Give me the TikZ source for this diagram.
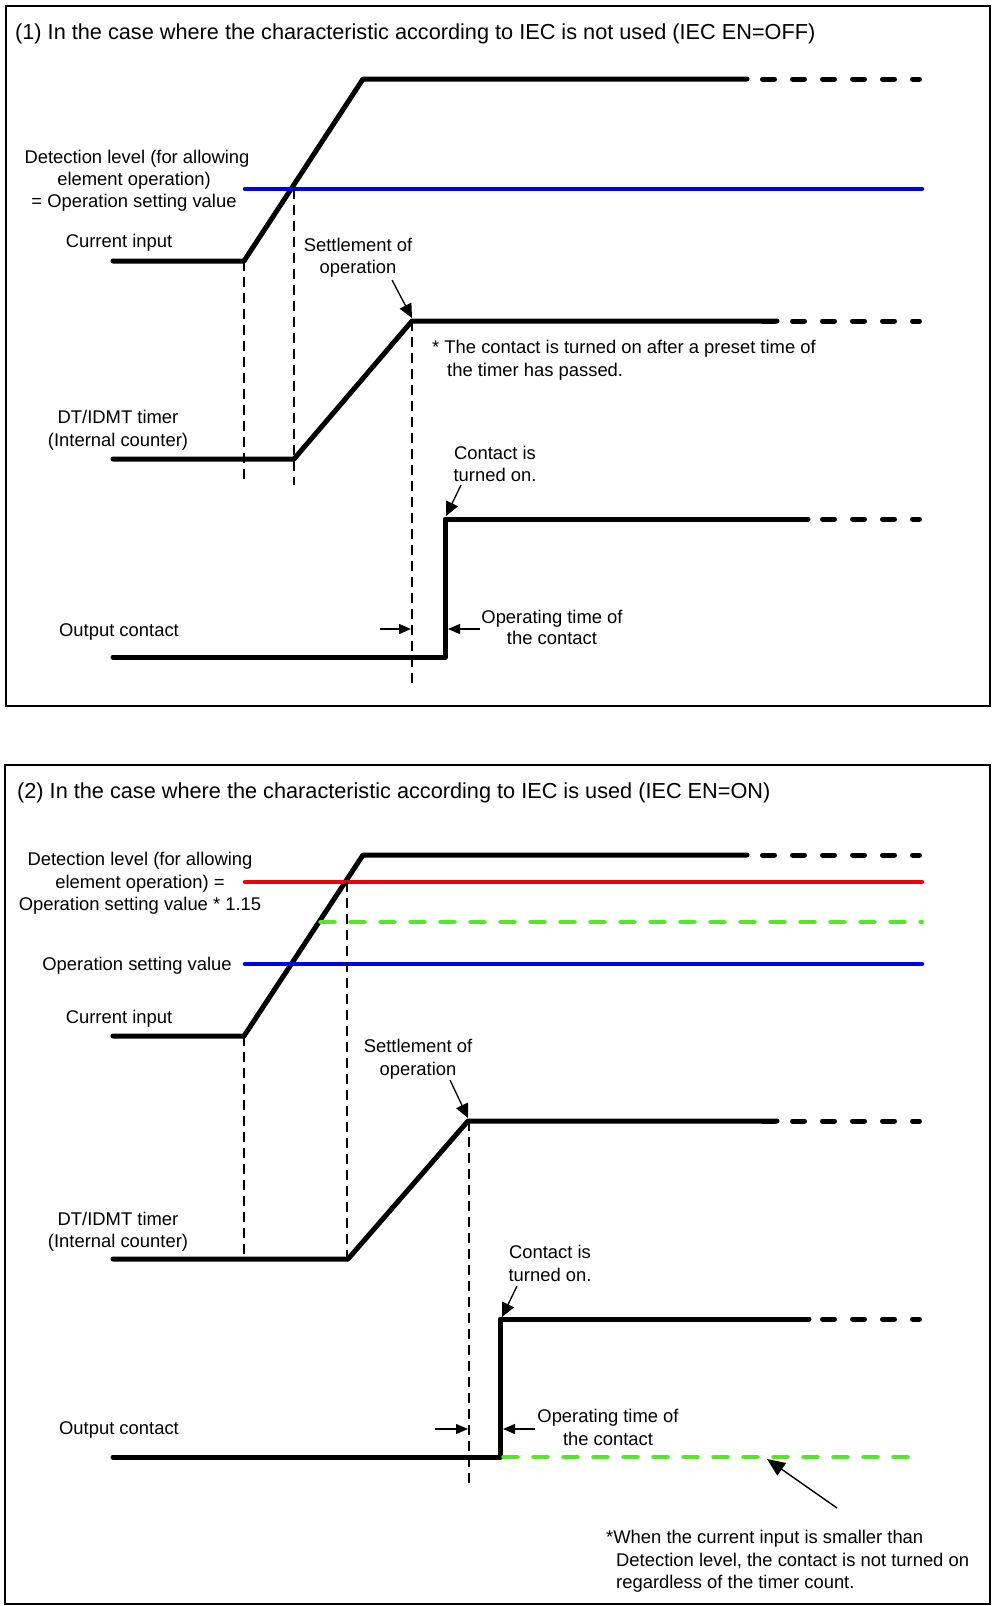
\documentclass[tikz,border=0pt]{standalone}
\usepackage{fontspec}
\setmainfont{Liberation Sans}
\usetikzlibrary{arrows.meta}
\definecolor{sigblue}{RGB}{0,0,230}
\definecolor{sigred}{RGB}{240,0,0}
\definecolor{siggreen}{RGB}{85,230,40}
\begin{document}
\begin{tikzpicture}[x=1pt,y=-1pt,
  sig/.style={line width=5pt,line cap=round,line join=round},
  sigtail/.style={line width=5pt,line cap=round,dash pattern=on 12pt off 18pt},
  lvlblue/.style={line width=4.5pt,line cap=round,draw=sigblue},
  lvlred/.style={line width=4.5pt,line cap=round,draw=sigred},
  lvlgreen/.style={line width=4.5pt,line cap=round,draw=siggreen,dash pattern=on 14pt off 16pt},
  guide/.style={line width=1.1pt,dash pattern=on 10pt off 6pt},
  lbl/.style={font=\fontsize{18.4}{22.5}\selectfont,inner sep=0pt,anchor=base},
  lblw/.style={font=\fontsize{18.4}{22.5}\selectfont,inner sep=0pt,anchor=base west},
  ttl/.style={font=\fontsize{21.7}{26}\selectfont,inner sep=0pt,anchor=base west},
  callout/.style={-{Triangle[length=14pt,width=13pt]},line width=1.3pt},
  bigcallout/.style={-{Triangle[length=18pt,width=15pt]},line width=1.4pt},
  dimarrow/.style={-{Triangle[length=12pt,width=10pt]},line width=1.3pt},
  frm/.style={line width=1.5pt}]
\useasboundingbox (0,0) rectangle (992,1606);

% ================= Panel 1 =================
\draw[frm] (6,6) rectangle (990,706);
\node[ttl] (title1) at (15,39) {(1) In the case where the characteristic according to IEC is not used (IEC EN=OFF)};

% current input
\coordinate (c1a) at (113,261); \coordinate (c1b) at (244,261);
\coordinate (c1c) at (363,79);  \coordinate (c1d) at (747,79);
\coordinate (c1s) at (762.5,79); \coordinate (c1e) at (919.5,79);
\draw[sig] (c1a) -- (c1b) -- (c1c) -- (c1d);
\draw[sigtail] (c1s) -- (c1e);
% detection level
\coordinate (b1a) at (245,189); \coordinate (b1b) at (922,189);
\draw[lvlblue] (b1a) -- (b1b);
% timer
\coordinate (t1a) at (113,459); \coordinate (t1b) at (294,459);
\coordinate (t1c) at (412,321); \coordinate (t1d) at (777,321);
\coordinate (t1s) at (762.5,321); \coordinate (t1e) at (919.5,321);
\draw[sig] (t1a) -- (t1b) -- (t1c) -- (t1d);
\draw[sigtail] (t1s) -- (t1e);
% output
\coordinate (o1a) at (113,657); \coordinate (o1b) at (445,657);
\coordinate (o1c) at (445,519); \coordinate (o1d) at (808,519);
\coordinate (o1s) at (762.5,519); \coordinate (o1e) at (919.5,519);
\draw[sig] (o1a) -- (o1b) -- (o1c) -- (o1d);
\draw[sigtail] (o1s) -- (o1e);
% guides
\coordinate (g1a) at (244,485); \coordinate (g1b0) at (294,189); \coordinate (g1b) at (294,485);
\coordinate (g1c) at (412,683);
\draw[guide] (c1b) -- (g1a);
\draw[guide] (g1b0) -- (g1b);
\draw[guide] (t1c) -- (g1c);

% labels
\node[lbl] (d1l1) at (137,163) {Detection level (for allowing};
\node[lbl] (d1l2) at (134,185) {element operation)};
\node[lbl] (d1l3) at (134,207) {= Operation setting value};
\node[lbl] (ci1) at (119,247) {Current input};
\node[lbl] (tm1a) at (118,423) {DT/IDMT timer};
\node[lbl] (tm1b) at (118,446) {(Internal counter)};
\node[lbl] (oc1) at (119,636) {Output contact};

\node[lbl] (st1a) at (358,251) {Settlement of};
\node[lbl] (st1b) at (358,273) {operation};
\coordinate (st1s) at (392,280); \coordinate (st1t) at (412,318);
\draw[callout] (st1s) -- (st1t);

\node[lblw] (n1a) at (432,353) {* The contact is turned on after a preset time of};
\node[lblw] (n1b) at (447,376) {the timer has passed.};

\node[lbl] (ct1a) at (495,459) {Contact is};
\node[lbl] (ct1b) at (495,481) {turned on.};
\coordinate (ct1s) at (461,485); \coordinate (ct1t) at (446,516);
\draw[callout] (ct1s) -- (ct1t);

\coordinate (dm1a) at (380,629); \coordinate (dm1b) at (411,629);
\coordinate (dm1c) at (480,629); \coordinate (dm1d) at (448,629);
\draw[dimarrow] (dm1a) -- (dm1b);
\draw[dimarrow] (dm1c) -- (dm1d);
\node[lbl] (op1a) at (552,623) {Operating time of};
\node[lbl] (op1b) at (552,644) {the contact};

% ================= Panel 2 =================
\draw[frm] (5,765) rectangle (990,1604);
\node[ttl] (title2) at (17,798) {(2) In the case where the characteristic according to IEC is used (IEC EN=ON)};

% current input
\coordinate (c2a) at (113,1036); \coordinate (c2b) at (244,1036);
\coordinate (c2c) at (363,855);  \coordinate (c2d) at (747,855);
\coordinate (c2s) at (762.5,855); \coordinate (c2e) at (919.5,855);
\draw[sig] (c2a) -- (c2b) -- (c2c) -- (c2d);
\draw[sigtail] (c2s) -- (c2e);
% levels
\coordinate (r2a) at (245,882); \coordinate (r2b) at (922,882);
\draw[lvlred] (r2a) -- (r2b);
\coordinate (gr2a) at (320.5,922); \coordinate (gr2b) at (922,922);
\draw[lvlgreen] (gr2a) -- (gr2b);
\coordinate (b2a) at (245,964); \coordinate (b2b) at (922,964);
\draw[lvlblue] (b2a) -- (b2b);
% timer
\coordinate (t2a) at (113,1259); \coordinate (t2b) at (348,1259);
\coordinate (t2c) at (468,1121); \coordinate (t2d) at (777,1121);
\coordinate (t2s) at (762.5,1121); \coordinate (t2e) at (919.5,1121);
\draw[sig] (t2a) -- (t2b) -- (t2c) -- (t2d);
\draw[sigtail] (t2s) -- (t2e);
% output
\coordinate (o2a) at (113,1457); \coordinate (o2b) at (500,1457);
\coordinate (o2c) at (500,1319); \coordinate (o2d) at (809,1319);
\coordinate (o2s) at (762.5,1319); \coordinate (o2e) at (919.5,1319);
\draw[sig] (o2a) -- (o2b) -- (o2c) -- (o2d);
\draw[sigtail] (o2s) -- (o2e);
\coordinate (go2a) at (503.5,1457); \coordinate (go2b) at (913,1457);
\draw[lvlgreen] (go2a) -- (go2b);
% guides
\coordinate (g2a) at (244,1259);
\coordinate (g2b0) at (347,882); \coordinate (g2b) at (347,1259);
\coordinate (g2c0) at (469,1121); \coordinate (g2c) at (469,1483);
\draw[guide] (c2b) -- (g2a);
\draw[guide] (g2b0) -- (g2b);
\draw[guide] (g2c0) -- (g2c);

% labels
\node[lbl] (d2l1) at (140,865) {Detection level (for allowing};
\node[lbl] (d2l2) at (140,888) {element operation) =};
\node[lbl] (d2l3) at (140,910) {Operation setting value * 1.15};
\node[lbl] (os2) at (137,970) {Operation setting value};
\node[lbl] (ci2) at (119,1023) {Current input};
\node[lbl] (tm2a) at (118,1225) {DT/IDMT timer};
\node[lbl] (tm2b) at (118,1247) {(Internal counter)};
\node[lbl] (oc2) at (119,1434) {Output contact};

\node[lbl] (st2a) at (418,1052) {Settlement of};
\node[lbl] (st2b) at (418,1075) {operation};
\coordinate (st2s) at (450,1080); \coordinate (st2t) at (468,1118);
\draw[callout] (st2s) -- (st2t);

\node[lbl] (ct2a) at (550,1258.5) {Contact is};
\node[lbl] (ct2b) at (550,1281) {turned on.};
\coordinate (ct2s) at (517,1286); \coordinate (ct2t) at (502,1317);
\draw[callout] (ct2s) -- (ct2t);

\coordinate (dm2a) at (435,1429); \coordinate (dm2b) at (468,1429);
\coordinate (dm2c) at (535,1429); \coordinate (dm2d) at (503,1429);
\draw[dimarrow] (dm2a) -- (dm2b);
\draw[dimarrow] (dm2c) -- (dm2d);
\node[lbl] (op2a) at (608,1422) {Operating time of};
\node[lbl] (op2b) at (608,1445) {the contact};

\coordinate (ba2s) at (837,1508); \coordinate (ba2t) at (767,1459);
\draw[bigcallout] (ba2s) -- (ba2t);

\node[lblw] (fn2a) at (606,1543) {*When the current input is smaller than};
\node[lblw] (fn2b) at (616,1566) {Detection level, the contact is not turned on};
\node[lblw] (fn2c) at (616,1588) {regardless of the timer count.};
\end{tikzpicture}
\end{document}
